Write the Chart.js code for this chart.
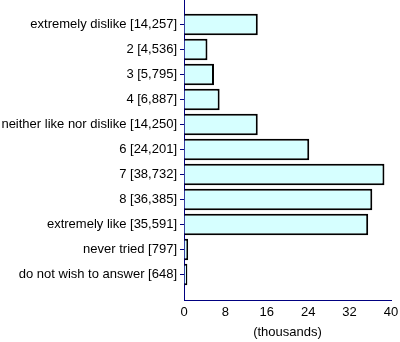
<!DOCTYPE html>
<html>
<head>
<meta charset="utf-8">
<script src="https://cdn.jsdelivr.net/npm/chart.js@4/dist/chart.umd.min.js"></script>
<style>
html,body{margin:0;padding:0;background:#fff;}
canvas{display:block;}
</style>
</head>
<body>
<canvas id="c" width="400" height="342"></canvas>
<script>
const categories = ['extremely dislike','2','3','4','neither like nor dislike','6','7','8','extremely like','never tried','do not wish to answer'];
const counts = [14257,4536,5795,6887,14250,24201,38732,36385,35591,797,648];
const xTicks = [0,8,16,24,32,40];
const axisTitle = '(thousands)';

const labels = categories.map((c,i)=> c + ' [' + counts[i].toLocaleString('en-US') + ']');
const values = counts.map(c => c/1000);

Chart.defaults.font.family = '"Liberation Sans", Arial, sans-serif';
Chart.defaults.font.size = 13;
Chart.defaults.color = '#000';

new Chart(document.getElementById('c'), {
  type: 'bar',
  data: {
    datasets: [{
      data: values.map((v,i)=>({x:v, y:i})),
      backgroundColor: 'rgb(214,255,255)',
      borderColor: '#000',
      borderWidth: 2,
      barPercentage: 0.86,
      categoryPercentage: 1
    }]
  },
  options: {
    indexAxis: 'y',
    responsive: false,
    animation: false,
    devicePixelRatio: 1,
    layout: {padding: {top: 0, right: 9, left: 0, bottom: 0}},
    plugins: {legend: {display: false}, tooltip: {enabled: false}},
    scales: {
      x: {
        type: 'linear',
        position: 'bottom',
        min: xTicks[0],
        max: xTicks[xTicks.length-1],
        afterBuildTicks: s => { s.ticks = xTicks.map(v => ({value: v})); },
        ticks: {padding: 5, color: '#000', font: {size: 13}, maxRotation: 0},
        grid: {drawOnChartArea: false, drawTicks: false},
        border: {color: '#000080', width: 1},
        title: {display: true, text: axisTitle, color: '#000', font: {size: 13}, padding: {top: 0, bottom: 2}},
        afterFit: s => { s.height = 42; s.paddingLeft = 0; s.paddingRight = 0; }
      },
      y: {
        type: 'linear',
        position: 'left',
        reverse: true,
        offset: false,
        min: -0.98,
        max: 11.02,
        afterBuildTicks: s => { s.ticks = labels.map((_, i) => ({value: i})); },
        ticks: {
          autoSkip: false,
          padding: 3,
          color: '#000',
          font: {size: 13},
          callback: v => labels[v]
        },
        grid: {offset: false, drawOnChartArea: false, drawTicks: true, tickLength: 4, color: '#000080'},
        border: {color: '#000080', width: 1},
        afterFit: s => { s.width = 184; s.paddingTop = 0; s.paddingBottom = 0; }
      }
    }
  }
});
</script>
</body>
</html>
